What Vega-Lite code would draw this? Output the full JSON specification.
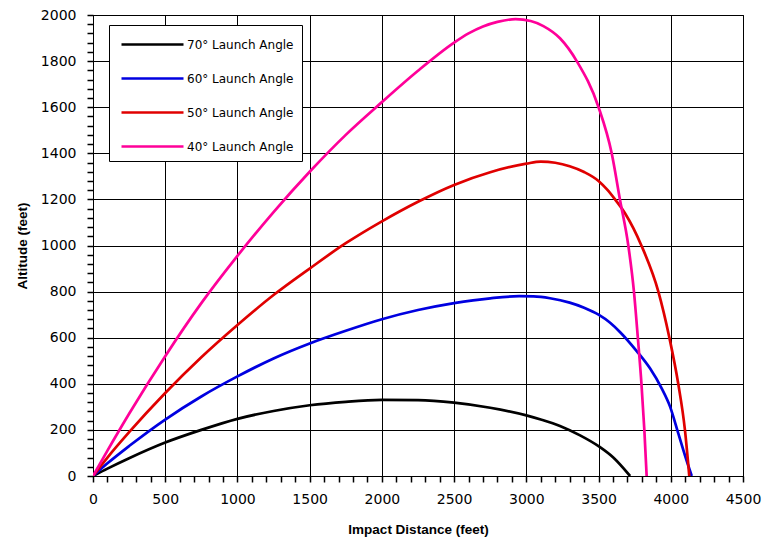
{
  "$schema": "https://vega.github.io/schema/vega-lite/v6.json",
  "autosize": {"type": "none"},
  "padding": {"left": 93, "top": 15, "right": 20, "bottom": 61},
  "width": 650,
  "height": 461,
  "background": "white",
  "config": {
    "view": {"stroke": "black", "strokeWidth": 1},
    "axis": {
      "domainColor": "black",
      "gridColor": "black",
      "gridWidth": 1,
      "labelFont": "DejaVu Sans",
      "labelFontSize": 14,
      "labelColor": "black",
      "titleFont": "Liberation Sans",
      "titleFontWeight": "bold",
      "titleFontSize": 13.5,
      "titleColor": "black",
      "labelOverlap": false,
      "labelFlush": false
    },
    "legend": {
      "orient": "none",
      "legendX": 16,
      "legendY": 10,
      "strokeColor": "black",
      "fillColor": "white",
      "padding": 8,
      "symbolType": "M-0.7,0H5.5",
      "symbolSize": 400,
      "symbolStrokeWidth": 2.5,
      "labelFont": "DejaVu Sans",
      "labelFontSize": 12,
      "labelColor": "black",
      "labelOffset": 47,
      "rowPadding": 16,
      "title": null
    }
  },
  "data": {
    "values": [
      {"angle": "70° Launch Angle", "d": 0, "a": 0},
      {"angle": "70° Launch Angle", "d": 100, "a": 32},
      {"angle": "70° Launch Angle", "d": 250, "a": 77},
      {"angle": "70° Launch Angle", "d": 500, "a": 145},
      {"angle": "70° Launch Angle", "d": 750, "a": 200},
      {"angle": "70° Launch Angle", "d": 1000, "a": 248},
      {"angle": "70° Launch Angle", "d": 1250, "a": 282},
      {"angle": "70° Launch Angle", "d": 1500, "a": 307},
      {"angle": "70° Launch Angle", "d": 1750, "a": 322},
      {"angle": "70° Launch Angle", "d": 2000, "a": 330},
      {"angle": "70° Launch Angle", "d": 2250, "a": 329},
      {"angle": "70° Launch Angle", "d": 2500, "a": 318},
      {"angle": "70° Launch Angle", "d": 2750, "a": 296},
      {"angle": "70° Launch Angle", "d": 3000, "a": 263},
      {"angle": "70° Launch Angle", "d": 3100, "a": 245},
      {"angle": "70° Launch Angle", "d": 3233, "a": 217},
      {"angle": "70° Launch Angle", "d": 3372, "a": 176},
      {"angle": "70° Launch Angle", "d": 3505, "a": 127},
      {"angle": "70° Launch Angle", "d": 3602, "a": 80},
      {"angle": "70° Launch Angle", "d": 3718, "a": 0},
      {"angle": "60° Launch Angle", "d": 0, "a": 0},
      {"angle": "60° Launch Angle", "d": 100, "a": 55},
      {"angle": "60° Launch Angle", "d": 250, "a": 130},
      {"angle": "60° Launch Angle", "d": 500, "a": 245},
      {"angle": "60° Launch Angle", "d": 750, "a": 345},
      {"angle": "60° Launch Angle", "d": 1000, "a": 432},
      {"angle": "60° Launch Angle", "d": 1250, "a": 510},
      {"angle": "60° Launch Angle", "d": 1500, "a": 575},
      {"angle": "60° Launch Angle", "d": 1750, "a": 630},
      {"angle": "60° Launch Angle", "d": 2000, "a": 680},
      {"angle": "60° Launch Angle", "d": 2250, "a": 720},
      {"angle": "60° Launch Angle", "d": 2500, "a": 750},
      {"angle": "60° Launch Angle", "d": 2750, "a": 771},
      {"angle": "60° Launch Angle", "d": 2950, "a": 780},
      {"angle": "60° Launch Angle", "d": 3050, "a": 779},
      {"angle": "60° Launch Angle", "d": 3164, "a": 771},
      {"angle": "60° Launch Angle", "d": 3300, "a": 752},
      {"angle": "60° Launch Angle", "d": 3400, "a": 730},
      {"angle": "60° Launch Angle", "d": 3500, "a": 700},
      {"angle": "60° Launch Angle", "d": 3580, "a": 665},
      {"angle": "60° Launch Angle", "d": 3648, "a": 625},
      {"angle": "60° Launch Angle", "d": 3764, "a": 542},
      {"angle": "60° Launch Angle", "d": 3856, "a": 467},
      {"angle": "60° Launch Angle", "d": 3937, "a": 380},
      {"angle": "60° Launch Angle", "d": 3995, "a": 301},
      {"angle": "60° Launch Angle", "d": 4052, "a": 185},
      {"angle": "60° Launch Angle", "d": 4098, "a": 90},
      {"angle": "60° Launch Angle", "d": 4145, "a": 0},
      {"angle": "50° Launch Angle", "d": 0, "a": 0},
      {"angle": "50° Launch Angle", "d": 100, "a": 80},
      {"angle": "50° Launch Angle", "d": 250, "a": 190},
      {"angle": "50° Launch Angle", "d": 500, "a": 360},
      {"angle": "50° Launch Angle", "d": 750, "a": 515},
      {"angle": "50° Launch Angle", "d": 1000, "a": 655},
      {"angle": "50° Launch Angle", "d": 1250, "a": 785},
      {"angle": "50° Launch Angle", "d": 1500, "a": 900},
      {"angle": "50° Launch Angle", "d": 1750, "a": 1010},
      {"angle": "50° Launch Angle", "d": 2000, "a": 1105},
      {"angle": "50° Launch Angle", "d": 2250, "a": 1190},
      {"angle": "50° Launch Angle", "d": 2500, "a": 1263},
      {"angle": "50° Launch Angle", "d": 2750, "a": 1318},
      {"angle": "50° Launch Angle", "d": 3000, "a": 1355},
      {"angle": "50° Launch Angle", "d": 3100, "a": 1364},
      {"angle": "50° Launch Angle", "d": 3200, "a": 1359},
      {"angle": "50° Launch Angle", "d": 3300, "a": 1344},
      {"angle": "50° Launch Angle", "d": 3400, "a": 1319},
      {"angle": "50° Launch Angle", "d": 3500, "a": 1280},
      {"angle": "50° Launch Angle", "d": 3560, "a": 1242},
      {"angle": "50° Launch Angle", "d": 3614, "a": 1200},
      {"angle": "50° Launch Angle", "d": 3683, "a": 1140},
      {"angle": "50° Launch Angle", "d": 3798, "a": 998},
      {"angle": "50° Launch Angle", "d": 3914, "a": 800},
      {"angle": "50° Launch Angle", "d": 3990, "a": 601},
      {"angle": "50° Launch Angle", "d": 4052, "a": 399},
      {"angle": "50° Launch Angle", "d": 4098, "a": 200},
      {"angle": "50° Launch Angle", "d": 4128, "a": 0},
      {"angle": "40° Launch Angle", "d": 0, "a": 0},
      {"angle": "40° Launch Angle", "d": 100, "a": 110},
      {"angle": "40° Launch Angle", "d": 250, "a": 270},
      {"angle": "40° Launch Angle", "d": 500, "a": 520},
      {"angle": "40° Launch Angle", "d": 750, "a": 750},
      {"angle": "40° Launch Angle", "d": 1000, "a": 955},
      {"angle": "40° Launch Angle", "d": 1250, "a": 1145},
      {"angle": "40° Launch Angle", "d": 1500, "a": 1320},
      {"angle": "40° Launch Angle", "d": 1750, "a": 1480},
      {"angle": "40° Launch Angle", "d": 2000, "a": 1622},
      {"angle": "40° Launch Angle", "d": 2250, "a": 1758},
      {"angle": "40° Launch Angle", "d": 2500, "a": 1880},
      {"angle": "40° Launch Angle", "d": 2600, "a": 1920},
      {"angle": "40° Launch Angle", "d": 2700, "a": 1950},
      {"angle": "40° Launch Angle", "d": 2800, "a": 1970},
      {"angle": "40° Launch Angle", "d": 2925, "a": 1982},
      {"angle": "40° Launch Angle", "d": 3030, "a": 1974},
      {"angle": "40° Launch Angle", "d": 3118, "a": 1952},
      {"angle": "40° Launch Angle", "d": 3233, "a": 1899},
      {"angle": "40° Launch Angle", "d": 3349, "a": 1800},
      {"angle": "40° Launch Angle", "d": 3500, "a": 1600},
      {"angle": "40° Launch Angle", "d": 3591, "a": 1400},
      {"angle": "40° Launch Angle", "d": 3648, "a": 1200},
      {"angle": "40° Launch Angle", "d": 3706, "a": 1000},
      {"angle": "40° Launch Angle", "d": 3745, "a": 800},
      {"angle": "40° Launch Angle", "d": 3772, "a": 600},
      {"angle": "40° Launch Angle", "d": 3797, "a": 400},
      {"angle": "40° Launch Angle", "d": 3817, "a": 200},
      {"angle": "40° Launch Angle", "d": 3833, "a": 0}
    ]
  },
  "mark": {"type": "line", "strokeWidth": 2.7, "interpolate": "monotone", "clip": true},
  "encoding": {
    "x": {
      "field": "d",
      "type": "quantitative",
      "scale": {"domain": [0, 4500], "nice": false, "zero": false},
      "axis": {
        "title": "Impact Distance (feet)",
        "titlePadding": 16,
        "labelPadding": 10,
        "ticks": true,
        "tickSize": 6,
        "tickColor": "black",
        "tickWidth": 1.5,
        "tickOpacity": 1,
        "tickRound": true,
        "values": [0,100,200,300,400,500,600,700,800,900,1000,1100,1200,1300,1400,1500,1600,1700,1800,1900,2000,2100,2200,2300,2400,2500,2600,2700,2800,2900,3000,3100,3200,3300,3400,3500,3600,3700,3800,3900,4000,4100,4200,4300,4400,4500],
        "labelExpr": "datum.value % 500 === 0 ? datum.label : ''",
        "grid": true,
        "gridOpacity": {"condition": {"test": "datum.value % 500 === 0", "value": 1}, "value": 0},
        "format": "d"
      }
    },
    "y": {
      "field": "a",
      "type": "quantitative",
      "scale": {"domain": [0, 2000], "nice": false, "zero": false},
      "axis": {
        "title": "Altitude (feet)",
        "titlePadding": 11,
        "labelPadding": 11,
        "ticks": true,
        "tickSize": 6,
        "tickColor": "black",
        "tickWidth": 1.5,
        "tickOpacity": 1,
        "tickRound": true,
        "values": [0,40,80,120,160,200,240,280,320,360,400,440,480,520,560,600,640,680,720,760,800,840,880,920,960,1000,1040,1080,1120,1160,1200,1240,1280,1320,1360,1400,1440,1480,1520,1560,1600,1640,1680,1720,1760,1800,1840,1880,1920,1960,2000],
        "labelExpr": "datum.value % 200 === 0 ? datum.label : ''",
        "grid": true,
        "gridOpacity": {"condition": {"test": "datum.value % 200 === 0", "value": 1}, "value": 0},
        "format": "d"
      }
    },
    "color": {
      "field": "angle",
      "type": "nominal",
      "scale": {
        "domain": ["70° Launch Angle", "60° Launch Angle", "50° Launch Angle", "40° Launch Angle"],
        "range": ["#000000", "#0000e0", "#e00000", "#ff0099"]
      },
      "sort": null
    }
  }
}
